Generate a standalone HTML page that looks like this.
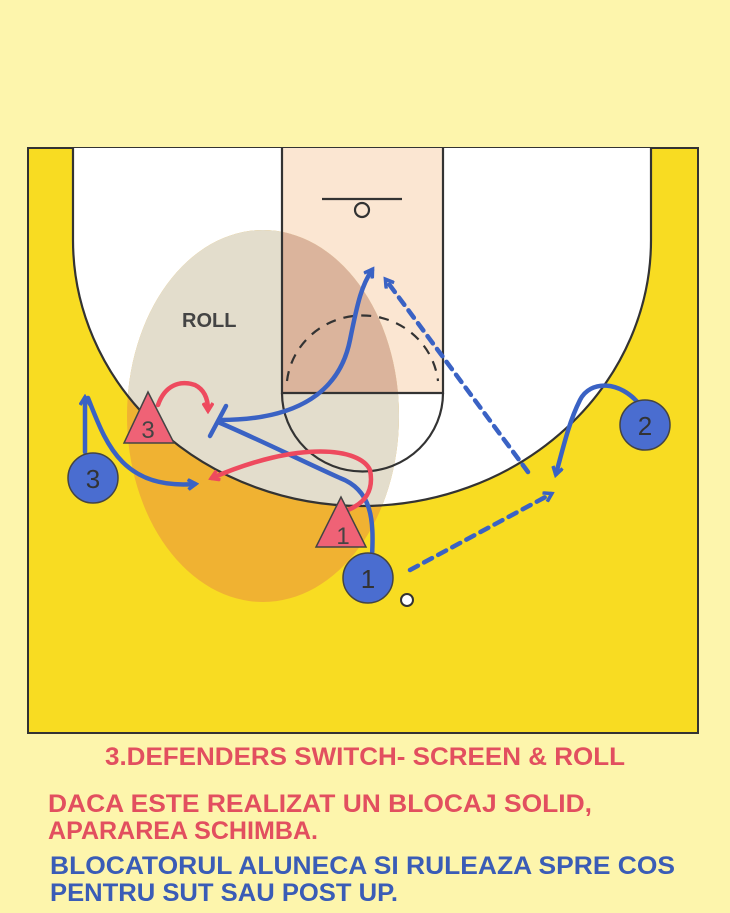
<!DOCTYPE html>
<html><head><meta charset="utf-8"><style>
html,body{margin:0;padding:0;background:#fdf5ac;}
svg{display:block}
text{font-family:"Liberation Sans",sans-serif;font-weight:bold}
</style></head><body>
<svg width="730" height="913" viewBox="0 0 730 913" xmlns="http://www.w3.org/2000/svg">
<defs>
<clipPath id="cw"><path d="M73,148 L73,240 A289,266 0 0 0 651,240 L651,148 Z"/></clipPath>
<clipPath id="cl"><rect x="282" y="148" width="161" height="245"/></clipPath>
<marker id="ab" markerWidth="12" markerHeight="12" refX="8" refY="6" orient="auto" markerUnits="userSpaceOnUse"><path d="M1,1 L9,6 L1,11" fill="none" stroke="#3a62c4" stroke-width="3.5"/></marker>
<marker id="ar" markerWidth="12" markerHeight="12" refX="8" refY="6" orient="auto" markerUnits="userSpaceOnUse"><path d="M1,1 L9,6 L1,11" fill="none" stroke="#ee4a5e" stroke-width="3.5"/></marker>
</defs>
<rect width="730" height="913" fill="#fdf5ac"/>
<rect x="28" y="148" width="670" height="585" fill="#f8dc22" stroke="#333" stroke-width="2"/>
<path d="M73,148 L73,240 A289,266 0 0 0 651,240 L651,148 Z" fill="#fff"/>
<rect x="282" y="148" width="161" height="245" fill="#fbe6d2"/>
<ellipse cx="263" cy="416" rx="136" ry="186" fill="#f0b232"/>
<ellipse cx="263" cy="416" rx="136" ry="186" fill="#e3ddcc" clip-path="url(#cw)"/>
<ellipse cx="263" cy="416" rx="136" ry="186" fill="#dbb49c" clip-path="url(#cl)"/>
<g fill="none" stroke="#333" stroke-width="2.2">
<path d="M73,148 L73,240 A289,266 0 0 0 651,240 L651,148"/>
<path d="M282,148 L282,393 L443,393 L443,148"/>
<path d="M282,393 A80,78 0 0 0 443,393"/>
<path d="M287,381 A76,74 0 0 1 438,381" stroke-dasharray="10,8"/>
<line x1="322" y1="199" x2="402" y2="199"/>
<circle cx="362" cy="210" r="7"/>
</g>
<text x="182" y="327" font-size="20" fill="#444">ROLL</text>
<g fill="none" stroke="#3a62c4" stroke-width="4.5" stroke-linecap="round">
<path d="M85,452 L85,398" marker-end="url(#ab)"/>
<path d="M88,398 C105,440 120,490 195,484" marker-end="url(#ab)"/>
<path d="M372,556 C374,520 372,490 340,478 C300,460 260,440 218,422"/>
<line x1="210" y1="436" x2="226" y2="406"/>
<path d="M220,420 C300,420 340,390 350,340 C358,300 362,285 372,270" marker-end="url(#ab)"/>
<path d="M528,472 L386,280" stroke-dasharray="9,7" marker-end="url(#ab)"/>
<path d="M410,570 L551,494" stroke-dasharray="9,7" marker-end="url(#ab)"/>
<path d="M640,405 C620,380 590,380 580,400 C570,420 565,440 556,474" marker-end="url(#ab)"/>
</g>
<g fill="none" stroke="#ee4a5e" stroke-width="4.5" stroke-linecap="round">
<path d="M158,405 C165,385 180,380 195,385 C205,390 208,400 208,410" marker-end="url(#ar)"/>
<path d="M348,510 C360,505 375,495 370,470 C360,448 300,440 212,478" marker-end="url(#ar)"/>
</g>
<g fill="#ef6276" stroke="#444" stroke-width="1.5">
<polygon points="148,392 124,443 174,443"/>
<polygon points="341,497 316,547 366,547"/>
</g>
<g font-size="24" fill="#444">
<text x="148" y="438" text-anchor="middle" style="font-weight:normal">3</text>
<text x="343" y="544" text-anchor="middle" style="font-weight:normal">1</text>
</g>
<g fill="#4a6dd0" stroke="#444" stroke-width="1.5">
<circle cx="93" cy="478" r="25"/>
<circle cx="645" cy="425" r="25"/>
<circle cx="368" cy="578" r="25"/>
</g>
<g font-size="26" fill="#333" text-anchor="middle">
<text x="93" y="488" style="font-weight:normal">3</text>
<text x="645" y="435" style="font-weight:normal">2</text>
<text x="368" y="588" style="font-weight:normal">1</text>
</g>
<circle cx="407" cy="600" r="6" fill="#fff" stroke="#333" stroke-width="2"/>
<g font-size="25" lengthAdjust="spacingAndGlyphs">
<text x="105" y="765" fill="#e24f5f" textLength="520" lengthAdjust="spacingAndGlyphs">3.DEFENDERS SWITCH- SCREEN &amp; ROLL</text>
<text x="48" y="812" fill="#e24f5f" textLength="544" lengthAdjust="spacingAndGlyphs">DACA ESTE REALIZAT UN BLOCAJ SOLID,</text>
<text x="48" y="839" fill="#e24f5f" textLength="270" lengthAdjust="spacingAndGlyphs">APARAREA SCHIMBA.</text>
<text x="50" y="874" fill="#3a5cb6" textLength="625" lengthAdjust="spacingAndGlyphs">BLOCATORUL ALUNECA SI RULEAZA SPRE COS</text>
<text x="50" y="901" fill="#3a5cb6" textLength="348" lengthAdjust="spacingAndGlyphs">PENTRU SUT SAU POST UP.</text>
</g>
</svg>
</body></html>
